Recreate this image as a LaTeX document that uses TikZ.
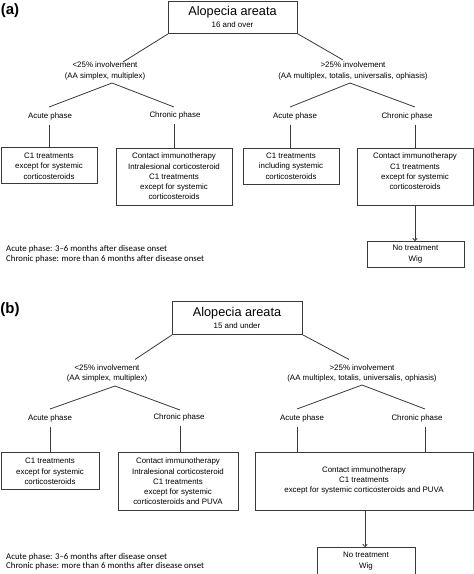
\documentclass[tikz,border=0pt]{standalone}
\usepackage{fontspec}
\setmainfont{Liberation Sans}
\newfontfamily\notefont{Carlito}
\usetikzlibrary{arrows.meta}
\definecolor{ln}{HTML}{3A3A3A}
\tikzset{
  conn/.style={draw=ln, line width=0.8pt},
  arr/.style={conn, -{To[length=3pt,width=5pt]}},
  boxn/.style={draw=ln, line width=0.9pt, inner sep=0pt, anchor=north west},
  txt/.style={align=center, inner sep=0pt, font=\fontsize{7.9}{10.3}\selectfont},
  ttl/.style={inner sep=0pt, font=\fontsize{12.7}{14}\selectfont},
  sub/.style={inner sep=0pt, font=\fontsize{7.9}{10}\selectfont},
  note/.style={anchor=west, inner sep=0pt, font=\notefont\fontsize{8.8}{10}\selectfont},
  panel/.style={inner sep=0pt, font=\bfseries\fontsize{15}{16}\selectfont}
}
\begin{document}
\begin{tikzpicture}[x=1pt,y=-1pt]
\useasboundingbox (0,0) rectangle (474,574);
\clip (0,0) rectangle (474,574);
\fill[white] (0,0) rectangle (474,574);

% ---------------- (a) ----------------
\node[panel] (pa) at (10,11) {(a)};
\node[boxn, minimum width=129pt, minimum height=32.5pt] (aA) at (168,0.5) {};
\node[ttl] (aT) at (232.5,12) {Alopecia areata};
\node[sub] (aS) at (232.5,25) {16 and over};

\node[txt] (aL1) at (105,71) {<25\% involvement\\(AA simplex, multiplex)};
\node[txt] (aL2) at (353,71) {>25\% involvement\\(AA multiplex, totalis, universalis, ophiasis)};
\draw[conn] (aA.south west) -- ([xshift=18pt,yshift=0pt]aL1.north);
\draw[conn] (aA.south east) -- ([xshift=-10pt,yshift=2pt]aL2.north);

\node[txt] (aP1) at (50,116) {Acute phase};
\node[txt] (aP2) at (175,115) {Chronic phase};
\node[txt] (aP3) at (295,116) {Acute phase};
\node[txt] (aP4) at (407,116) {Chronic phase};

\coordinate (aJ1) at (112,83);
\coordinate (aJ2) at (350,83);
\coordinate (aE1) at (49,107);
\coordinate (aE2) at (174,107);
\coordinate (aE3) at (290,107);
\coordinate (aE4) at (415,107);
\draw[conn] (aE1) -- (aJ1) -- (aE2);
\draw[conn] (aE3) -- (aJ2) -- (aE4);

\node[boxn, minimum width=96.5pt, minimum height=36pt] (aB1) at (0.5,147) {};
\node[boxn, minimum width=116pt, minimum height=57pt] (aB2) at (116,148) {};
\node[boxn, minimum width=96pt, minimum height=36pt] (aB3) at (243,148) {};
\node[boxn, minimum width=116pt, minimum height=57pt] (aB4) at (357,148) {};
\node[boxn, minimum width=97pt, minimum height=26pt] (aB5) at (367,241) {};

\node[txt] (aT1) at (49,166) {C1 treatments\\except for systemic\\corticosteroids};
\node[txt] (aT2) at (174,176.5) {Contact immunotherapy\\Intralesional corticosteroid\\C1 treatments\\except for systemic\\corticosteroids};
\node[txt] (aT3) at (291,166) {C1 treatments\\including systemic\\corticosteroids};
\node[txt] (aT4) at (415,171.5) {Contact immunotherapy\\C1 treatments\\except for systemic\\corticosteroids};
\node[txt] (aT5) at (415.5,254) {No treatment\\Wig};

\draw[conn] ([yshift=-5pt]aP1.south -| aE1) -- (aB1.north -| aE1);
\draw[conn] ([yshift=-5pt]aP2.south -| aE2) -- (aB2.north -| aE2);
\draw[conn] ([yshift=-5pt]aP3.south -| aE3) -- (aB3.north -| aE3);
\draw[conn] ([yshift=-5pt]aP4.south -| aE4) -- (aB4.north -| aE4);
\draw[arr] (aB4.south -| aE4) -- (aB5.north -| aE4);

\node[note] (aN1) at (6,249) {Acute phase: 3–6 months after disease onset};
\node[note] (aN2) at (6,259) {Chronic phase: more than 6 months after disease onset};

% ---------------- (b) ----------------
\node[panel] (pb) at (10,310) {(b)};
\node[boxn, minimum width=130pt, minimum height=33pt] (bA) at (172,301) {};
\node[ttl] (bT) at (237,313) {Alopecia areata};
\node[sub] (bS) at (237,326) {15 and under};

\node[txt] (bL1) at (107,373.5) {<25\% involvement\\(AA simplex, multiplex)};
\node[txt] (bL2) at (362,373.5) {>25\% involvement\\(AA multiplex, totalis, universalis, ophiasis)};
\draw[conn] (bA.south west) -- ([xshift=28pt,yshift=5pt]bL1.north);
\draw[conn] (bA.south east) -- ([xshift=-13pt,yshift=5pt]bL2.north);

\node[txt] (bP1) at (50,418) {Acute phase};
\node[txt] (bP2) at (179,417) {Chronic phase};
\node[txt] (bP3) at (302,418) {Acute phase};
\node[txt] (bP4) at (417,418) {Chronic phase};

\coordinate (bJ1) at (115,386);
\coordinate (bJ2) at (362,385);
\coordinate (bE1) at (50,409);
\coordinate (bE2) at (180,410);
\coordinate (bE3) at (297,409);
\coordinate (bE4) at (425,409);
\draw[conn] (bE1) -- (bJ1) -- (bE2);
\draw[conn] (bE3) -- (bJ2) -- (bE4);

\node[boxn, minimum width=98.5pt, minimum height=37pt] (bB1) at (0.5,452) {};
\node[boxn, minimum width=120pt, minimum height=58pt] (bB2) at (118,452) {};
\node[boxn, minimum width=218pt, minimum height=58pt] (bB3) at (255,452) {};
\node[boxn, minimum width=98pt, minimum height=29pt] (bB4) at (317,547) {};

\node[txt] (bT1) at (50,471.5) {C1 treatments\\except for systemic\\corticosteroids};
\node[txt] (bT2) at (178,481.5) {Contact immunotherapy\\Intralesional corticosteroid\\C1 treatments\\except for systemic\\corticosteroids and PUVA};
\node[txt] (bT3) at (364,480.5) {Contact immunotherapy\\C1 treatments\\except for systemic corticosteroids and PUVA};
\node[txt] (bT4) at (366,561) {No treatment\\Wig};

\draw[conn] ([yshift=-5pt]bP1.south -| bE1) -- (bB1.north -| bE1);
\draw[conn] ([yshift=-5pt]bP2.south -| bE2) -- (bB2.north -| bE2);
\draw[conn] ([yshift=-5pt]bP3.south -| bE3) -- (bB3.north -| bE3);
\draw[conn] ([yshift=-5pt]bP4.south -| bE4) -- (bB3.north -| bE4);
\coordinate (bX) at (365,510);
\draw[arr] (bB3.south -| bX) -- (bB4.north -| bX);

\node[note] (bN1) at (6,557) {Acute phase: 3–6 months after disease onset};
\node[note] (bN2) at (6,566) {Chronic phase: more than 6 months after disease onset};
\end{tikzpicture}
\end{document}
